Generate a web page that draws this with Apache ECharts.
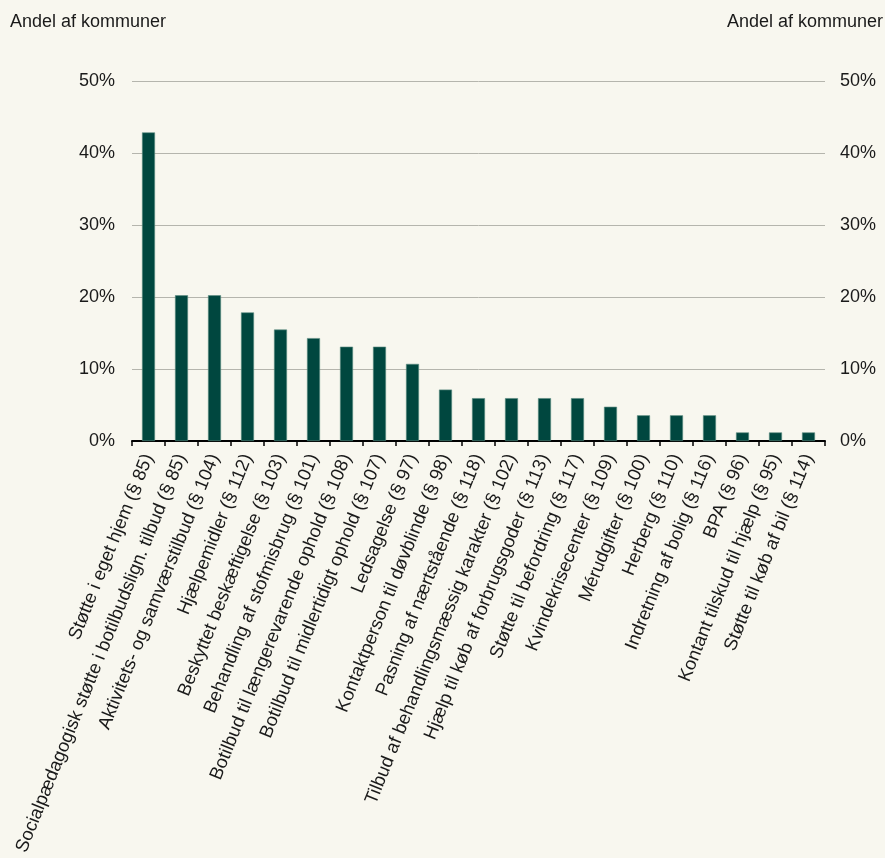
<!DOCTYPE html>
<html>
<head>
<meta charset="utf-8">
<script src="https://cdn.jsdelivr.net/npm/echarts@6/dist/echarts.min.js"></script>
<style>
html,body{margin:0;padding:0;background:#f8f7ef;}
#chart{width:885px;height:858px;}
</style>
</head>
<body>
<div id="chart"></div>
<script>
const categories = [
  "Støtte i eget hjem (§ 85)",
  "Socialpædagogisk støtte i botilbudslign. tilbud (§ 85)",
  "Aktivitets- og samværstilbud (§ 104)",
  "Hjælpemidler (§ 112)",
  "Beskyttet beskæftigelse (§ 103)",
  "Behandling af stofmisbrug (§ 101)",
  "Botilbud til længerevarende ophold (§ 108)",
  "Botilbud til midlertidigt ophold (§ 107)",
  "Ledsagelse (§ 97)",
  "Kontaktperson til døvblinde (§ 98)",
  "Pasning af nærtstående (§ 118)",
  "Tilbud af behandlingsmæssig karakter (§ 102)",
  "Hjælp til køb af forbrugsgoder (§ 113)",
  "Støtte til befordring (§ 117)",
  "Kvindekrisecenter (§ 109)",
  "Mérudgifter (§ 100)",
  "Herberg (§ 110)",
  "Indretning af bolig (§ 116)",
  "BPA (§ 96)",
  "Kontant tilskud til hjælp (§ 95)",
  "Støtte til køb af bil (§ 114)"
];
const shares = [42.86, 20.24, 20.24, 17.86, 15.48, 14.29, 13.10, 13.10, 10.71, 7.14, 5.95, 5.95, 5.95, 5.95, 4.76, 3.57, 3.57, 3.57, 1.19, 1.19, 1.19];
const axisTitle = "Andel af kommuner";

const chart = echarts.init(document.getElementById('chart'));
const font = "Liberation Sans, Arial, sans-serif";
chart.setOption({
  backgroundColor: '#f8f7ef',
  animation: false,
  textStyle: {fontFamily: font},
  title: [
    {text: axisTitle, left: 10, top: 13, padding: 0, textStyle: {fontFamily: font, fontSize: 18, fontWeight: 'normal', color: '#1a1a1a'}},
    {text: axisTitle, right: 2, top: 13, padding: 0, textStyle: {fontFamily: font, fontSize: 18, fontWeight: 'normal', color: '#1a1a1a'}}
  ],
  grid: {left: 132, right: 60, top: 81, bottom: 417, containLabel: false},
  xAxis: {
    type: 'category',
    data: categories,
    axisLine: {show: true, lineStyle: {color: '#000', width: 2}},
    axisTick: {show: true, length: 5, lineStyle: {color: '#000', width: 1.5}},
    axisLabel: {interval: 0, rotate: 68, fontSize: 18.5, color: '#1a1a1a', margin: 14, fontFamily: font}
  },
  yAxis: [
    {
      type: 'value', min: 0, max: 50, interval: 10, position: 'left',
      axisLabel: {formatter: '{value}%', fontSize: 18, color: '#1a1a1a', margin: 17, fontFamily: font},
      axisLine: {show: false}, axisTick: {show: false},
      splitLine: {show: true, lineStyle: {color: '#b5b5ad', width: 1}}
    },
    {
      type: 'value', min: 0, max: 50, interval: 10, position: 'right',
      axisLabel: {formatter: '{value}%', fontSize: 18, color: '#1a1a1a', margin: 15, fontFamily: font},
      axisLine: {show: false}, axisTick: {show: false},
      splitLine: {show: false}
    }
  ],
  series: [{
    type: 'bar',
    data: shares,
    barWidth: 13,
    itemStyle: {color: '#00473f', borderColor: '#5e8d83', borderWidth: 0.6}
  }]
});
</script>
</body>
</html>
